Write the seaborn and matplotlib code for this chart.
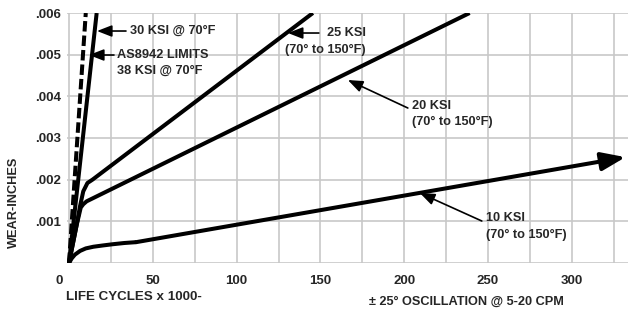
import matplotlib
matplotlib.use("Agg")
import matplotlib.pyplot as plt
import matplotlib.transforms as mtransforms
import seaborn as sns
import pandas as pd

# ---- data (life cycles x1000, wear inches) ----
x_30ksi = [0, 16.5]
y_30ksi = [0, 0.006]
x_as8942 = [0, 10.0]
y_as8942 = [0, 0.006]
x_25ksi = [0, 2, 4.5, 6.5, 8.5, 11, 14, 145.5]
y_25ksi = [0, 0.0004, 0.0009, 0.00135, 0.00172, 0.00192, 0.0020, 0.006]
x_20ksi = [0, 2, 4.5, 7, 8.5, 10.5, 239]
y_20ksi = [0, 0.0004, 0.0009, 0.00133, 0.00141, 0.00148, 0.006]
x_10ksi = [0, 1.6, 3.5, 6.6, 10, 14.5, 20, 26, 33, 40, 332]
y_10ksi = [0, 0.00011, 0.0002, 0.00029, 0.00035, 0.00039, 0.00042, 0.00045, 0.00048, 0.0005, 0.00254]

x_ticks = [0, 50, 100, 150, 200, 250, 300]
x_minor = [25, 75, 125, 175, 225, 275, 325]
y_ticks = [0, 0.001, 0.002, 0.003, 0.004, 0.005, 0.006]
y_labels = ["", ".001", ".002", ".003", ".004", ".005", ".006"]

sns.set_style("white")
FONT = ["Liberation Sans Narrow", "Liberation Sans", "DejaVu Sans"]
plt.rcParams["font.family"] = FONT
plt.rcParams["font.weight"] = "bold"

fig = plt.figure(figsize=(6.28, 3.11), dpi=100)
ax = fig.add_axes([67 / 628, 48 / 311, 561 / 628, 250 / 311])

LW = 2.9
def curve(xs, ys, **kw):
    df = pd.DataFrame({"x": xs, "y": ys})
    sns.lineplot(data=df, x="x", y="y", ax=ax, sort=False, color="black",
                 linewidth=LW, estimator=None, **kw)

curve(x_30ksi, y_30ksi)
curve(x_as8942, y_as8942, dashes=False)
ax.lines[-1].set_dashes((2.6, 1.0))
curve(x_25ksi, y_25ksi)
curve(x_20ksi, y_20ksi)
curve(x_10ksi[:-1], y_10ksi[:-1])
for l in ax.lines:
    l.set_solid_joinstyle("round")
    l.set_solid_capstyle("butt")

# arrowhead at end of 10 KSI
ax.annotate("", xy=(x_10ksi[-1], y_10ksi[-1]), xytext=(x_10ksi[-2], y_10ksi[-2]),
            arrowprops=dict(arrowstyle="-|>,head_length=1.45,head_width=0.55",
                            mutation_scale=10, lw=LW, color="black",
                            shrinkA=0, shrinkB=0),
            annotation_clip=False)

ax.set_xlim(-1.2, 333.5)
ax.set_ylim(0, 0.006)
ax.set_xticks(x_ticks)
ax.set_xticks(x_minor, minor=True)
ax.set_yticks(y_ticks)
ax.set_yticklabels(y_labels)
ax.tick_params(axis="both", which="both", length=0, labelsize=9.5)
ax.tick_params(axis="x", pad=9)
ax.tick_params(axis="y", pad=4)
for t in ax.get_xticklabels() + ax.get_yticklabels():
    t.set_fontweight("bold")
# first x label sits slightly left in reference
lbl0 = ax.get_xticklabels()[0]
lbl0.set_transform(lbl0.get_transform() + mtransforms.ScaledTranslation(-10 / 100, 0, fig.dpi_scale_trans))

ax.grid(True, which="both", color="#c8c8c8", linewidth=1.2)
ax.set_axisbelow(True)
for s in ax.spines.values():
    s.set_visible(False)
ax.set_xlabel("")
ax.set_ylabel("")

# annotations (pixel-based positions converted to data)
def px(xp, yp):
    return ((xp - 69) / 1.677, (263 - yp) / 41.67 * 0.001)

arrow_kw = dict(arrowstyle="-|>,head_length=0.9,head_width=0.35", mutation_scale=10,
                lw=1.2, color="black", shrinkA=0, shrinkB=0)
TS = 9.2

ax.annotate("", xy=px(97, 31), xytext=px(126, 31), arrowprops=arrow_kw)
ax.text(*px(130, 31), "30 KSI @ 70°F", fontsize=TS, fontweight="bold", va="center", ha="left")

ax.annotate("", xy=px(89, 55), xytext=px(114, 55), arrowprops=arrow_kw)
ax.text(*px(117, 55), "AS8942 LIMITS", fontsize=TS, fontweight="bold", va="center", ha="left")
ax.text(*px(117, 71), "38 KSI @ 70°F", fontsize=TS, fontweight="bold", va="center", ha="left")

ax.annotate("", xy=px(288, 33), xytext=px(319, 33), arrowprops=arrow_kw)
ax.text(*px(366, 33), "25 KSI", fontsize=TS, fontweight="bold", va="center", ha="right")
ax.text(*px(366, 50), "(70° to 150°F)", fontsize=TS, fontweight="bold", va="center", ha="right")

ax.annotate("", xy=px(348, 80), xytext=px(408, 108), arrowprops=arrow_kw)
ax.text(*px(412, 106), "20 KSI", fontsize=TS, fontweight="bold", va="center", ha="left")
ax.text(*px(412, 122), "(70° to 150°F)", fontsize=TS, fontweight="bold", va="center", ha="left")

ax.annotate("", xy=px(420, 193), xytext=px(482, 221), arrowprops=arrow_kw)
ax.text(*px(486, 218), "10 KSI", fontsize=TS, fontweight="bold", va="center", ha="left")
ax.text(*px(486, 235), "(70° to 150°F)", fontsize=TS, fontweight="bold", va="center", ha="left")

# axis titles placed as in reference
fig.text(14 / 628, 1 - 202 / 311, "WEAR-INCHES", rotation=90, fontsize=TS,
         fontweight="bold", va="center", ha="center")
fig.text(134 / 628, 1 - 297 / 311, "LIFE CYCLES x 1000-", fontsize=9.6,
         fontweight="bold", va="center", ha="center")
fig.text(466 / 628, 1 - 302 / 311, "± 25° OSCILLATION @ 5-20 CPM", fontsize=9.2,
         fontweight="bold", va="center", ha="center")

fig.savefig("out.png", dpi=100)
